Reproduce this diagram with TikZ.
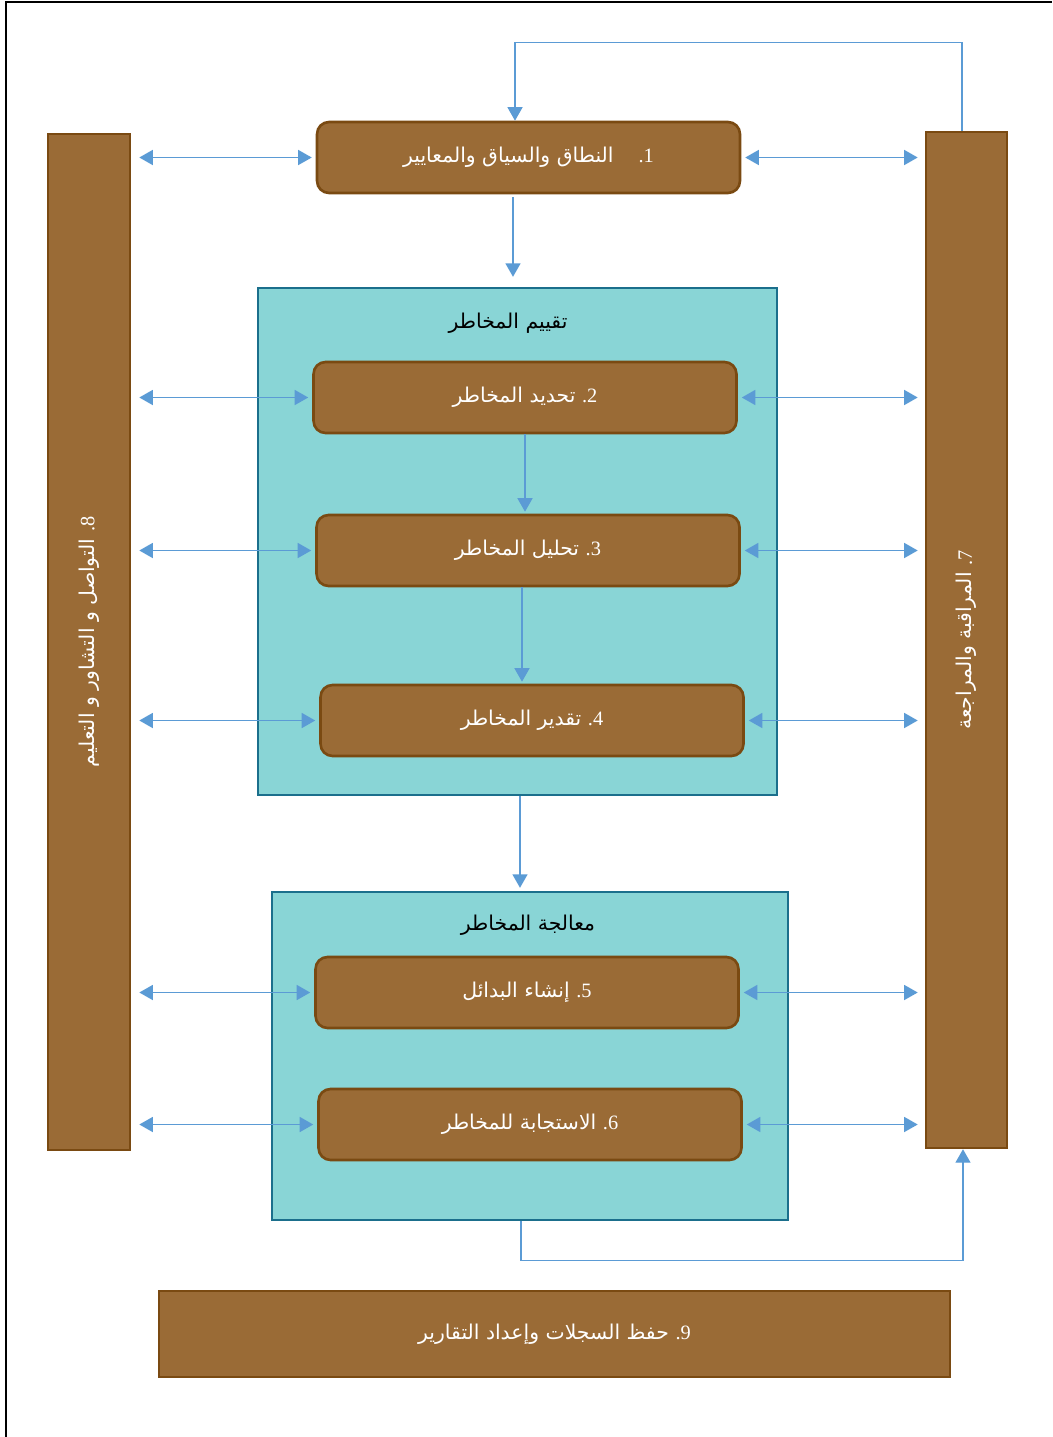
\documentclass[tikz,border=0pt]{standalone}
\usepackage{fontspec}
\usetikzlibrary{arrows.meta}
\TeXXeTstate=1
\newfontfamily\arabicfont[Script=Arabic]{DejaVu Sans}
\newfontfamily\digitfont{Liberation Serif}
\newcommand{\artext}[1]{{\arabicfont\beginR #1\endR}}
\newcommand{\stepno}[1]{{\digitfont .#1}}

\definecolor{riskbrown}{HTML}{9A6B36}
\definecolor{riskedge}{HTML}{7A4A12}
\definecolor{riskteal}{HTML}{89D5D6}
\definecolor{tealedge}{HTML}{1B6F8C}
\definecolor{linkblue}{HTML}{5B9BD5}

\begin{document}
\begin{tikzpicture}[x = 0.02cm, y = -0.02cm,
	> = {Triangle[length = 0.27cm, width = 0.3cm]},
	stage/.style = {draw = riskedge, line width = 1.5pt, fill = riskbrown,
		rounded corners = 0.24cm, minimum width = 8.46cm, minimum height = 1.42cm,
		text = white, font = \fontsize{11.6}{14}\selectfont},
	bar/.style = {draw = riskedge, line width = 1.5pt, fill = riskbrown},
	panel/.style = {draw = tealedge, line width = 1.4pt, fill = riskteal},
	title/.style = {font = \fontsize{11.6}{14}\selectfont},
	link/.style = {draw = linkblue, line width = 0.8pt}]

	\useasboundingbox (0, 0) rectangle (1052, 1437);

	% Page edge

	\draw [line width = 0.8pt] (6, 1437) -- (6, 2) -- (1052, 2);

	% Side bars

	\node [bar, minimum width = 1.64cm, minimum height = 20.32cm] (bar8) at (89, 642) {};
	\node [bar, minimum width = 1.62cm, minimum height = 20.32cm] (bar7) at (966.5, 640) {};
	\node [rotate = 90, text = white, title] at (bar8) {\artext{التواصل و التشاور و التعليم} \stepno{8}};
	\node [rotate = 90, text = white, title] at (bar7) {\artext{المراقبة والمراجعة} \stepno{7}};

	% Risk assessment and risk treatment panels

	\node [panel, minimum width = 10.38cm, minimum height = 10.14cm] (assess) at (517.5, 541.5) {};
	\node [panel, minimum width = 10.32cm, minimum height = 6.56cm] (treat) at (530, 1056) {};
	\node [title] (assesstitle) at (508, 323) {\artext{تقييم المخاطر}};
	\node [title] (treattitle) at (528, 925) {\artext{معالجة المخاطر}};

	% Process steps

	\node [stage] (box1) at (528.5, 157.5) {\artext{النطاق والسياق والمعايير}\hspace{0.5cm}\stepno{1}};
	\node [stage] (box2) at (525, 397.5) {\artext{تحديد المخاطر} \stepno{2}};
	\node [stage] (box3) at (528, 550.5) {\artext{تحليل المخاطر} \stepno{3}};
	\node [stage] (box4) at (532, 720.5) {\artext{تقدير المخاطر} \stepno{4}};
	\node [stage] (box5) at (527, 992.5) {\artext{إنشاء البدائل} \stepno{5}};
	\node [stage] (box6) at (530, 1124.5) {\artext{الاستجابة للمخاطر} \stepno{6}};
	\node [bar, minimum width = 15.82cm, minimum height = 1.72cm, text = white, title] (box9)
		at (554.5, 1334) {\artext{حفظ السجلات وإعداد التقارير} \stepno{9}};

	% Main flow

	\draw [link, ->, shorten <= 0.06cm, shorten >= 0.2cm] ([xshift = -0.31cm] box1.south) -- ([xshift = -0.31cm] box1.south |- assess.north);
	\draw [link, ->, shorten >= 0.04cm] (box2.south) -- (box2.south |- box3.north);
	\draw [link, ->, shorten >= 0.04cm] ([xshift = -0.12cm] box3.south) -- ([xshift = -0.12cm] box3.south |- box4.north);
	\draw [link, ->, shorten >= 0.06cm] ([xshift = 0.05cm] assess.south) -- ([xshift = 0.05cm] assess.south |- treat.north);

	% Feedback loops

	\draw [link, ->] ([xshift = -0.09cm] bar7.north) -- ++(0, -88) -| ([xshift = -0.27cm] box1.north);
	\draw [link, ->] ([xshift = -0.18cm] treat.south) -- ++(0, 39) -| ([xshift = -0.07cm] bar7.south);

	% Links to the side bars

	\foreach \b in {box1, box2, box3, box4, box5, box6} {
		\draw [link, <->, shorten <= 0.16cm, shorten >= 0.08cm] (bar8.east |- \b.west) -- (\b.west);
		\draw [link, <->, shorten <= 0.08cm, shorten >= 0.14cm] (\b.east) -- (bar7.west |- \b.east);
	}

\end{tikzpicture}
\end{document}
